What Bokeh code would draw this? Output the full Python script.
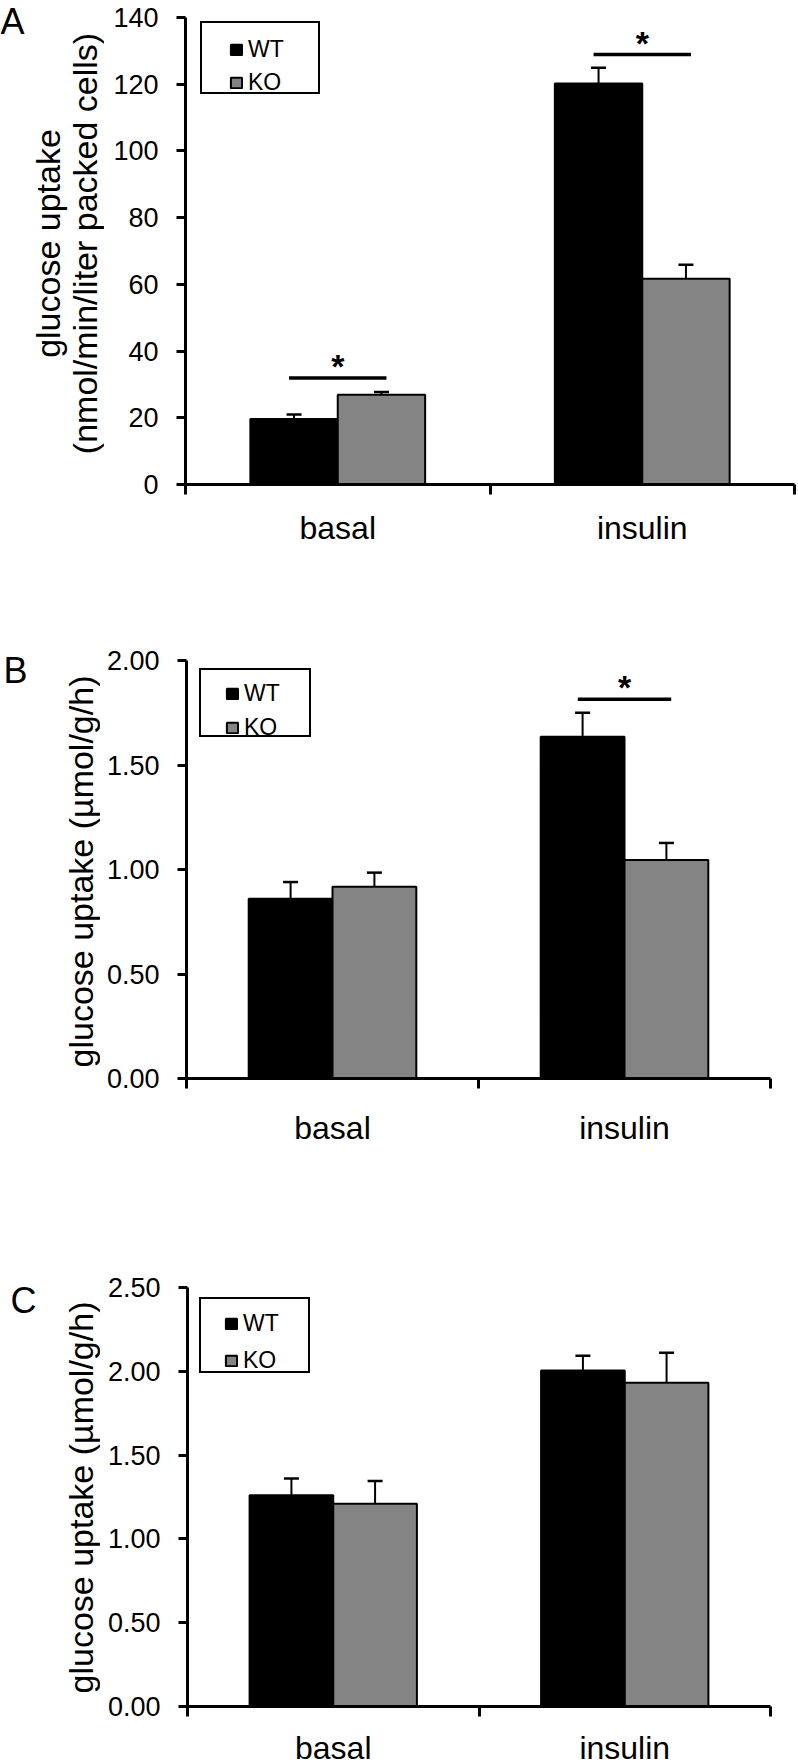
import math
from bokeh.plotting import figure
from bokeh.models import (ColumnDataSource, FixedTicker, Whisker, TeeHead, Legend,
                          LegendItem, Range1d, NumeralTickFormatter,
                          CustomJSTickFormatter)
from bokeh.layouts import column, row
from bokeh.embed import file_html
from bokeh.resources import INLINE
from bokeh.core.properties import value

# ---------------- data ----------------
categories = ["basal", "insulin"]
groups = ["WT", "KO"]

# Panel A: glucose uptake (nmol/min/liter packed cells)
a_wt = [19.6, 120.2]
a_wt_err = [1.4, 4.7]
a_ko = [26.9, 61.7]
a_ko_err = [0.8, 4.2]
a_sig_cats = ["basal", "insulin"]
a_sig_level = [31.9, 128.9]
a_yticks = [0, 20, 40, 60, 80, 100, 120, 140]
a_ylabel = ["glucose uptake", "(nmol/min/liter packed cells)"]

# Panel B: glucose uptake (µmol/g/h)
b_wt = [0.860, 1.635]
b_wt_err = [0.080, 0.115]
b_ko = [0.917, 1.045]
b_ko_err = [0.068, 0.082]
b_sig_cats = ["insulin"]
b_sig_level = [1.814]
b_yticks = [0.0, 0.5, 1.0, 1.5, 2.0]
b_ylabel = ["glucose uptake (µmol/g/h)"]

# Panel C: glucose uptake (µmol/g/h)
c_wt = [1.260, 2.005]
c_wt_err = [0.100, 0.088]
c_ko = [1.210, 1.932]
c_ko_err = [0.135, 0.178]
c_sig_cats = []
c_sig_level = []
c_yticks = [0.0, 0.5, 1.0, 1.5, 2.0, 2.5]
c_ylabel = ["glucose uptake (µmol/g/h)"]

FONT = "Liberation Sans"
WT_COLOR = "#000000"
KO_COLOR = "#848484"
BAR_W = 0.287
SIG_HW = 0.16


def side_fig(letter, ylabel_lines, g):
    """Left strip holding the panel letter and the rotated y-axis title."""
    w, h = g["lw"], g["H"]
    f = figure(width=w, height=h, x_range=Range1d(0, w), y_range=Range1d(0, h),
               min_border=0, output_backend="svg", toolbar_location=None,
               title=None, frame_align=False)
    f.axis.visible = False
    f.grid.visible = False
    f.outline_line_color = None
    lx, ly = g["letter"]
    f.text(x=[lx], y=[h - ly], text=[letter], text_font=value(FONT),
           text_font_size="36px", text_align="left", text_baseline="middle",
           text_color="black")
    tx, ty = g["title"]
    f.text(x=tx[:len(ylabel_lines)], y=[h - ty] * len(ylabel_lines), text=ylabel_lines,
           text_font=value(FONT), text_font_size="34px", text_align="center",
           text_baseline="middle", angle=math.pi / 2, text_color="black")
    return f


def make_panel(letter, wt, wt_err, ko, ko_err, sig_cats, sig_levels, yticks, fmt,
               ylabel_lines, g):
    p = figure(frame_width=g["fw"], frame_height=g["fh"],
               min_border_left=g["fl"] - g["lw"], min_border_right=g["br"],
               min_border_top=g["bt"], min_border_bottom=g["H"] - g["bt"] - g["fh"],
               x_range=Range1d(0, len(categories)), y_range=Range1d(0, yticks[-1]),
               output_backend="svg", toolbar_location=None, title=None,
               frame_align=False)
    p.grid.visible = False
    p.outline_line_color = None
    p.background_fill_color = "white"
    p.border_fill_color = "white"

    centers = [i + 0.5 for i in range(len(categories))]
    off = BAR_W / 2
    src_wt = ColumnDataSource(dict(x=[c - off for c in centers], top=wt,
                                   upper=[v + e for v, e in zip(wt, wt_err)]))
    src_ko = ColumnDataSource(dict(x=[c + off for c in centers], top=ko,
                                   upper=[v + e for v, e in zip(ko, ko_err)]))
    r_wt = p.vbar(x="x", top="top", bottom=0, width=BAR_W, source=src_wt,
                  fill_color=WT_COLOR, line_color="black", line_width=2)
    r_ko = p.vbar(x="x", top="top", bottom=0, width=BAR_W, source=src_ko,
                  fill_color=KO_COLOR, line_color="black", line_width=2)
    for src in (src_wt, src_ko):
        p.add_layout(Whisker(source=src, base="x", lower="top", upper="upper",
                             dimension="height", line_width=2, line_color="black",
                             upper_head=TeeHead(size=15, line_width=2.5, line_color="black"),
                             lower_head=None, level="overlay"))

    if sig_cats:
        sx = [categories.index(c) + 0.5 for c in sig_cats]
        p.segment(x0=[x - SIG_HW for x in sx], y0=sig_levels,
                  x1=[x + SIG_HW for x in sx], y1=sig_levels,
                  line_width=3.5, line_color="black")
        p.text(x=sx, y=sig_levels, text=["*"] * len(sx), text_font=value(FONT),
               text_font_style="bold", text_font_size="34px", text_align="center",
               text_baseline="alphabetic", y_offset=-12, text_color="black")

    # x axis
    xa = p.xaxis[0]
    xa.ticker = FixedTicker(ticks=centers, minor_ticks=list(range(len(categories) + 1)))
    xa.formatter = CustomJSTickFormatter(args=dict(cats=categories),
                                         code="const i = Math.floor(tick); return (i >= 0 && i < cats.length) ? cats[i] : '';")
    xa.axis_line_width = 3
    xa.axis_line_color = "black"
    xa.major_tick_line_color = None
    xa.major_tick_out = 0
    xa.major_tick_in = 0
    xa.minor_tick_line_color = "black"
    xa.minor_tick_line_width = 3
    xa.minor_tick_out = 10
    xa.minor_tick_in = 0
    xa.major_label_text_font = FONT
    xa.major_label_text_font_size = "32px"
    xa.major_label_text_color = "black"
    xa.major_label_standoff = g["xs"]

    # y axis
    ya = p.yaxis[0]
    ya.ticker = FixedTicker(ticks=yticks)
    ya.formatter = NumeralTickFormatter(format=fmt)
    ya.axis_line_width = 3
    ya.axis_line_color = "black"
    ya.major_tick_line_width = 3
    ya.major_tick_line_color = "black"
    ya.major_tick_out = 9
    ya.major_tick_in = 0
    ya.minor_tick_line_color = None
    ya.major_label_text_font = FONT
    ya.major_label_text_font_size = "27px"
    ya.major_label_text_color = "black"
    ya.major_label_standoff = 18

    # legend frame (box only)
    bx, by, bw, bh = g["box"]
    dummy = p.scatter(x=[], y=[], alpha=0)
    box = Legend(items=[LegendItem(label=" ", renderers=[dummy])],
                 location=(bx, g["fh"] - by - bh), padding=0, margin=0,
                 glyph_width=1, glyph_height=1, label_standoff=0,
                 label_width=bw - 1, label_height=bh, label_text_font_size="2px",
                 border_line_color="black", border_line_width=2, border_line_alpha=1.0,
                 background_fill_color="white", background_fill_alpha=1.0)
    p.add_layout(box)

    # legend items
    gx, gy, pitch = g["items"]
    lh = 26
    sp = int(round(pitch - lh))
    items_h = 2 * lh + sp
    leg = Legend(items=[LegendItem(label=groups[0], renderers=[r_wt]),
                        LegendItem(label=groups[1], renderers=[r_ko])],
                 location=(gx, g["fh"] - gy - items_h), padding=0, margin=0,
                 spacing=sp, glyph_width=14, glyph_height=13, label_standoff=5,
                 label_height=lh, label_text_font=FONT, label_text_font_size="23px",
                 label_text_color="black", border_line_color=None,
                 background_fill_alpha=0.0)
    p.add_layout(leg)

    return row(side_fig(letter, ylabel_lines, g), p, spacing=0)


# layout geometry (pixels)
geo_a = dict(H=560, lw=104, fl=185, fw=609, br=4, bt=17, fh=467, xs=15,
             box=(15, 8, 116, 69), items=(44, 21, 32), letter=(0, 21),
             title=([47, 84], 243))
geo_b = dict(H=600, lw=100, fl=186, fw=584, br=28, bt=100, fh=418, xs=21,
             box=(13, 12, 108, 65), items=(39, 22, 33), letter=(3, 110),
             title=([80], 311))
geo_c = dict(H=600, lw=100, fl=187, fw=583, br=28, bt=127, fh=419, xs=13,
             box=(12, 14, 107, 72), items=(37, 25, 36), letter=(10, 140),
             title=([80], 337))

pa = make_panel("A", a_wt, a_wt_err, a_ko, a_ko_err, a_sig_cats, a_sig_level,
                a_yticks, "0", a_ylabel, geo_a)
pb = make_panel("B", b_wt, b_wt_err, b_ko, b_ko_err, b_sig_cats, b_sig_level,
                b_yticks, "0.00", b_ylabel, geo_b)
pc = make_panel("C", c_wt, c_wt_err, c_ko, c_ko_err, c_sig_cats, c_sig_level,
                c_yticks, "0.00", c_ylabel, geo_c)

layout = column(pa, pb, pc, spacing=0)
open("out.html", "w").write(file_html(layout, INLINE))
